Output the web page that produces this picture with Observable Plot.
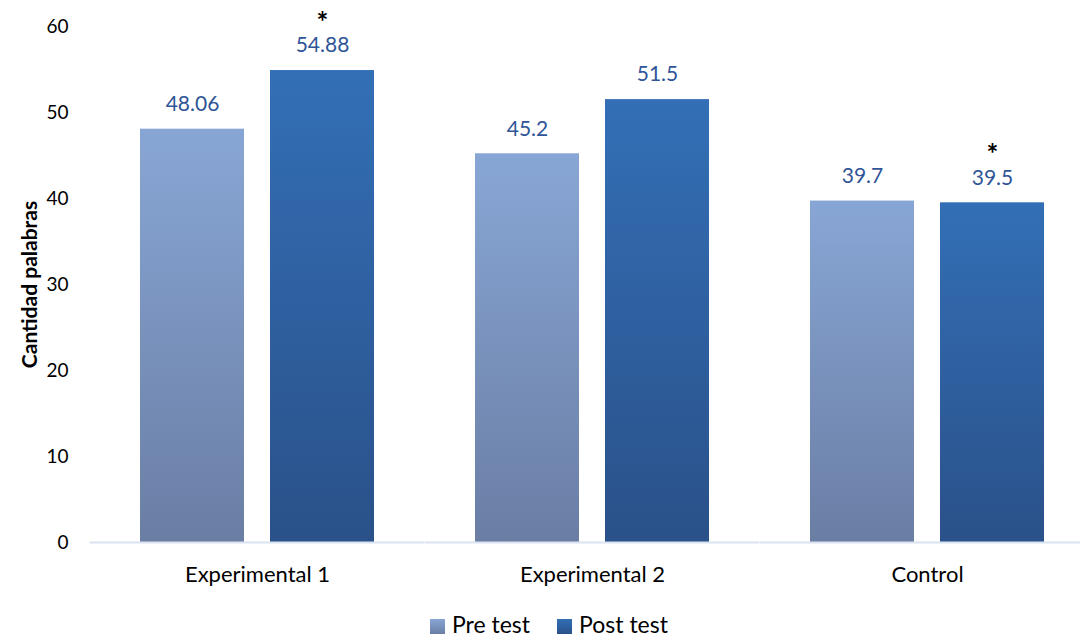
<!DOCTYPE html>
<html>
<head>
<meta charset="utf-8">
<script src="https://cdn.jsdelivr.net/npm/d3@7"></script>
<script src="https://cdn.jsdelivr.net/npm/@observablehq/plot@0.6"></script>
<style>
  html, body { margin: 0; padding: 0; background: #fff; }
  body { width: 1080px; height: 637px; position: relative; overflow: hidden; font-family: Lato, sans-serif; }
  #chart svg { display: block; }
  g[aria-label="y-axis label"] text { font-weight: bold; font-size: 21px; }
  #legend { position: absolute; left: 430px; top: 612px; height: 24px; line-height: 24px; display: flex; align-items: center; font-size: 23px; color: #000; }
  #legend .item { display: flex; align-items: center; margin-right: 27px; }
  #legend .sw { width: 15px; height: 15px; margin-right: 7px; margin-top: 4px; }
</style>
</head>
<body>
<div id="chart"></div>
<div id="legend"></div>
<script>
// ---- data ----
const groups = ["Experimental 1", "Experimental 2", "Control"];
const tests = ["Pre test", "Post test"];
const preValues = [48.06, 45.2, 39.7];
const postValues = [54.88, 51.5, 39.5];
const preStars = ["", "", ""];
const postStars = ["*", "", "*"];
const yTicks = [0, 10, 20, 30, 40, 50, 60];
const yLabel = "Cantidad palabras";

// ---- styles ----
const gradStops = {
  "Pre test": ["#88A6D5", "#6A7EA4"],
  "Post test": ["#336FB6", "#2A5189"]
};
const gradIds = {"Pre test": "gPre", "Post test": "gPost"};

const rows = groups.flatMap((g, i) => [
  {group: g, test: tests[0], value: preValues[i], star: preStars[i]},
  {group: g, test: tests[1], value: postValues[i], star: postStars[i]}
]);

const svg = Plot.plot({
  width: 1080,
  height: 600,
  marginLeft: 90,
  marginRight: -15,
  marginTop: 26,
  marginBottom: 58,
  style: {fontFamily: "Lato, sans-serif", fontSize: "19px", color: "#000", background: "#fff", overflow: "hidden"},
  fx: {domain: groups, paddingInner: 0.3, paddingOuter: 0.15, label: null},
  x: {domain: tests, paddingInner: 0.2, paddingOuter: 0, axis: null},
  y: {domain: [0, 60], label: yLabel},
  color: {domain: tests, range: tests.map(t => `url(#${gradIds[t]})`)},
  marks: [
    Plot.axisY({ticks: yTicks, tickSize: 0, tickPadding: 72, fontSize: 19,
      label: yLabel, labelAnchor: "center", labelArrow: "none", labelOffset: 118}),
    Plot.axisFx({anchor: "bottom", tickSize: 0, tickPadding: 24, fontSize: 22, label: null}),
    Plot.barY(rows, {fx: "group", x: "test", y: "value", fill: "test"}),
    Plot.ruleY([0], {stroke: "#D9E3F2", strokeWidth: 2, insetLeft: -50.3, insetRight: -50.3}),
    Plot.text(rows, {fx: "group", x: "test", y: "value", text: d => String(d.value),
      dy: -25, fill: "#2F5597", fontSize: 21, lineAnchor: "middle"}),
    Plot.text(rows, {fx: "group", x: "test", y: "value", text: "star",
      dy: -48, fill: "#000", fontSize: 28, fontWeight: "bold", lineAnchor: "middle"})
  ]
});

// gradient definitions
const defs = d3.select(svg).insert("defs", ":first-child");
for (const t of tests) {
  const lg = defs.append("linearGradient").attr("id", gradIds[t])
    .attr("x1", 0).attr("y1", 0).attr("x2", 0).attr("y2", 1);
  lg.append("stop").attr("offset", "0%").attr("stop-color", gradStops[t][0]);
  lg.append("stop").attr("offset", "100%").attr("stop-color", gradStops[t][1]);
}
document.getElementById("chart").appendChild(svg);

// legend
const legend = d3.select("#legend");
for (const t of tests) {
  const item = legend.append("div").attr("class", "item");
  item.append("div").attr("class", "sw")
    .style("background", `linear-gradient(${gradStops[t][0]}, ${gradStops[t][1]})`);
  item.append("span").text(t);
}
</script>
</body>
</html>
